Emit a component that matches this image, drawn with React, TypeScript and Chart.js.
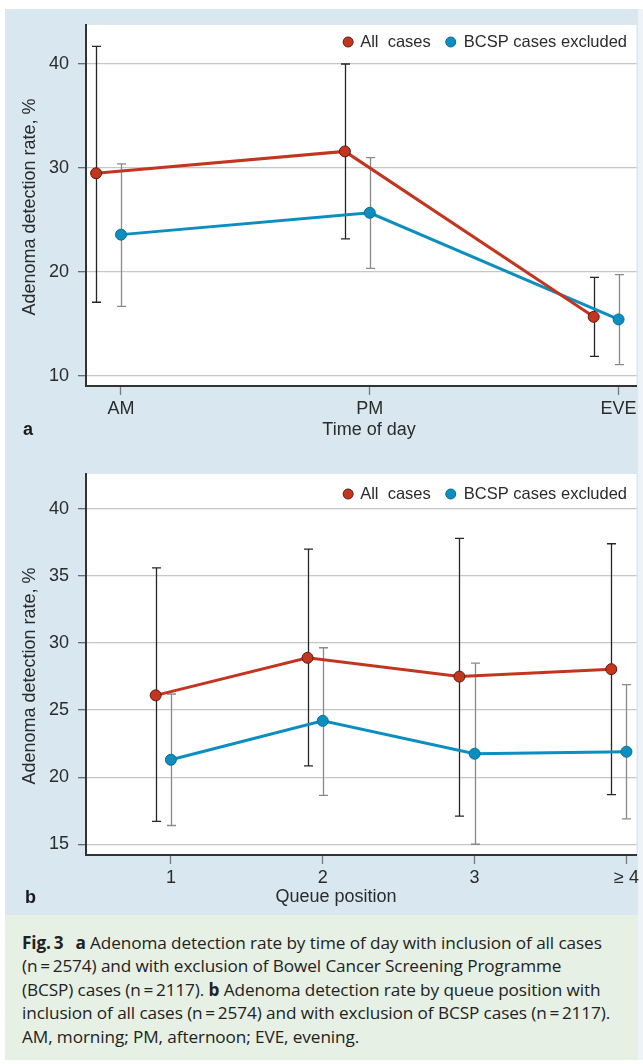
import React, { useEffect, useRef } from "react";
import { Chart, registerables } from "chart.js";

Chart.register(...registerables);

const FONT_FAMILY = '"Liberation Sans", Arial, sans-serif';
const CAPTION_FONT = '"Open Sans", "Noto Sans", sans-serif';

const seriesNames = ["All  cases", "BCSP cases excluded"];

// Panel a: time of day
const timeLabels = ["AM", "PM", "EVE"];
const timeAll = [29.5, 31.6, 15.7];
const timeAllLow = [17.1, 23.2, 11.9];
const timeAllHigh = [41.7, 40.0, 19.5];
const timeExcl = [23.6, 25.7, 15.45];
const timeExclLow = [16.7, 20.35, 11.1];
const timeExclHigh = [30.4, 31.0, 19.75];
const timeTicks = [10, 20, 30, 40];

// Panel b: queue position
const queueLabels = ["1", "2", "3", "≥ 4"];
const queueAll = [26.1, 28.9, 27.5, 28.05];
const queueAllLow = [16.7, 20.85, 17.1, 18.7];
const queueAllHigh = [35.6, 37.0, 37.8, 37.4];
const queueExcl = [21.3, 24.2, 21.75, 21.9];
const queueExclLow = [16.4, 18.65, 15.0, 16.9];
const queueExclHigh = [26.2, 29.65, 28.5, 26.9];
const queueTicks = [15, 20, 25, 30, 35, 40];

const RED = "#c3351f";
const RED_EDGE = "#5e1b10";
const BLUE = "#0c8ec0";
const BLUE_EDGE = "#0a6e96";
const DODGE = 0.1;

type Cfg = {
  panel: string;
  labels: string[];
  firstX: number;
  all: number[];
  allLow: number[];
  allHigh: number[];
  excl: number[];
  exclLow: number[];
  exclHigh: number[];
  ticks: number[];
  yMin: number;
  yMax: number;
  xMin: number;
  xMax: number;
  xTitle: string;
  xTitleX: number;
  xTitleY: number;
  yTitleY: number;
  legendY: number;
  panelX: number;
  panelY: number;
  top: number;
  width: number;
  height: number;
  area: { left: number; top: number; right: number; bottom: number };
};

const cfgA: Cfg = {
  panel: "a",
  labels: timeLabels,
  firstX: 0,
  all: timeAll,
  allLow: timeAllLow,
  allHigh: timeAllHigh,
  excl: timeExcl,
  exclLow: timeExclLow,
  exclHigh: timeExclHigh,
  ticks: timeTicks,
  yMin: 9.05,
  yMax: 43.75,
  xMin: -0.1406,
  xMax: 2.072,
  xTitle: "Time of day",
  xTitleX: 369,
  xTitleY: 430,
  yTitleY: 207,
  legendY: 42,
  panelX: 23,
  panelY: 430,
  top: 0,
  width: 643,
  height: 445,
  area: { left: 86, top: 25, right: 637, bottom: 386 },
};

const cfgB: Cfg = {
  panel: "b",
  labels: queueLabels,
  firstX: 1,
  all: queueAll,
  allLow: queueAllLow,
  allHigh: queueAllHigh,
  excl: queueExcl,
  exclLow: queueExclLow,
  exclHigh: queueExclHigh,
  ticks: queueTicks,
  yMin: 14.2,
  yMax: 42.6,
  xMin: 0.441,
  xMax: 4.066,
  xTitle: "Queue position",
  xTitleX: 336,
  xTitleY: 452,
  yTitleY: 231,
  legendY: 49,
  panelX: 25,
  panelY: 453,
  top: 445,
  width: 643,
  height: 470,
  area: { left: 86, top: 29, right: 637, bottom: 410 },
};

function decorPlugin(cfg: Cfg) {
  return {
    id: "decor" + cfg.panel,
    beforeDraw(chart: any) {
      const { ctx, chartArea: a } = chart;
      ctx.save();
      ctx.fillStyle = "#ffffff";
      ctx.fillRect(a.left, a.top, a.right - a.left, a.bottom - a.top);
      ctx.restore();
    },
    beforeDatasetsDraw(chart: any) {
      const { ctx } = chart;
      const xs = chart.scales.x;
      const ys = chart.scales.y;
      const groups = [
        { lo: cfg.exclLow, hi: cfg.exclHigh, dx: 0, color: "#8a8a8a" },
        { lo: cfg.allLow, hi: cfg.allHigh, dx: -DODGE, color: "#262626" },
      ];
      ctx.save();
      ctx.lineWidth = 1.3;
      for (const g of groups) {
        ctx.strokeStyle = g.color;
        g.lo.forEach((lo, i) => {
          const x = Math.round(xs.getPixelForValue(cfg.firstX + i + g.dx)) + 0.5;
          const yl = ys.getPixelForValue(lo);
          const yh = ys.getPixelForValue(g.hi[i]);
          ctx.beginPath();
          ctx.moveTo(x, yl);
          ctx.lineTo(x, yh);
          ctx.moveTo(x - 4.5, yl);
          ctx.lineTo(x + 4.5, yl);
          ctx.moveTo(x - 4.5, yh);
          ctx.lineTo(x + 4.5, yh);
          ctx.stroke();
        });
      }
      ctx.restore();
    },
    afterDraw(chart: any) {
      const { ctx } = chart;
      ctx.save();
      ctx.fillStyle = "#2b2b2b";
      ctx.font = `16.5px ${FONT_FAMILY}`;
      ctx.textBaseline = "middle";
      // legend
      const right = 627;
      const w2 = ctx.measureText(seriesNames[1]).width;
      ctx.textAlign = "right";
      ctx.fillText(seriesNames[1], right, cfg.legendY);
      const dot2 = right - w2 - 13;
      const t1right = dot2 - 20;
      ctx.fillText(seriesNames[0], t1right, cfg.legendY);
      const w1 = ctx.measureText(seriesNames[0]).width;
      const dot1 = t1right - w1 - 12;
      const dots = [
        { x: dot1, fill: RED, edge: RED_EDGE },
        { x: dot2, fill: BLUE, edge: BLUE_EDGE },
      ];
      for (const d of dots) {
        ctx.beginPath();
        ctx.arc(d.x, cfg.legendY, 5, 0, Math.PI * 2);
        ctx.fillStyle = d.fill;
        ctx.fill();
        ctx.lineWidth = 1;
        ctx.strokeStyle = d.edge;
        ctx.stroke();
      }
      // axis titles
      ctx.fillStyle = "#2b2b2b";
      ctx.textAlign = "center";
      ctx.font = `18px ${FONT_FAMILY}`;
      ctx.fillText(cfg.xTitle, cfg.xTitleX, cfg.xTitleY);
      ctx.save();
      ctx.translate(30, cfg.yTitleY);
      ctx.rotate(-Math.PI / 2);
      ctx.fillText("Adenoma detection rate, %", 0, 0);
      ctx.restore();
      // panel letter
      ctx.textAlign = "left";
      ctx.font = `bold 18px ${FONT_FAMILY}`;
      ctx.fillStyle = "#1a1a1a";
      ctx.fillText(cfg.panel, cfg.panelX, cfg.panelY);
      ctx.restore();
    },
  };
}

function buildChart(canvas: HTMLCanvasElement, cfg: Cfg) {
  const allPts = cfg.all.map((v, i) => ({ x: cfg.firstX + i - DODGE, y: v }));
  const exclPts = cfg.excl.map((v, i) => ({ x: cfg.firstX + i, y: v }));
  const tickFont = { family: FONT_FAMILY, size: 18 };
  return new Chart(canvas, {
    type: "line",
    data: {
      datasets: [
        {
          label: seriesNames[0],
          data: allPts,
          borderColor: RED,
          backgroundColor: RED,
          pointBackgroundColor: RED,
          pointBorderColor: RED_EDGE,
          pointBorderWidth: 1,
          pointRadius: 5.5,
          borderWidth: 3,
          tension: 0,
        },
        {
          label: seriesNames[1],
          data: exclPts,
          borderColor: BLUE,
          backgroundColor: BLUE,
          pointBackgroundColor: BLUE,
          pointBorderColor: BLUE_EDGE,
          pointBorderWidth: 1,
          pointRadius: 5.5,
          borderWidth: 3,
          tension: 0,
        },
      ],
    },
    options: {
      animation: false,
      responsive: false,
      devicePixelRatio: 1,
      events: [],
      layout: {
        padding: {
          left: 0,
          top: cfg.area.top,
          right: cfg.width - cfg.area.right,
          bottom: 0,
        },
      },
      plugins: {
        legend: { display: false },
        tooltip: { enabled: false },
      },
      scales: {
        x: {
          type: "linear",
          min: cfg.xMin,
          max: cfg.xMax,
          afterFit: (s: any) => {
            s.height = cfg.height - cfg.area.bottom;
          },
          afterBuildTicks: (s: any) => {
            s.ticks = cfg.labels.map((_, i) => ({ value: cfg.firstX + i }));
          },
          ticks: {
            callback: (_v: any, i: number) => cfg.labels[i],
            font: tickFont,
            color: "#2b2b2b",
            padding: 3,
            maxRotation: 0,
            autoSkip: false,
          },
          grid: {
            drawOnChartArea: false,
            drawTicks: true,
            tickLength: 9,
            tickColor: "#7a7a7a",
            tickWidth: 1.3,
          },
          border: { color: "#333333", width: 2 },
        },
        y: {
          min: cfg.yMin,
          max: cfg.yMax,
          afterFit: (s: any) => {
            s.width = cfg.area.left;
          },
          afterBuildTicks: (s: any) => {
            s.ticks = cfg.ticks.map((v) => ({ value: v }));
          },
          ticks: {
            font: tickFont,
            color: "#2b2b2b",
            padding: 9,
          },
          grid: {
            color: "#c6c6c6",
            lineWidth: 1.3,
            tickLength: 8,
            tickColor: "#6a6a6a",
          },
          border: { color: "#333333", width: 2 },
        },
      },
    },
    plugins: [decorPlugin(cfg)],
  } as any);
}

function ChartPanel({ cfg }: { cfg: Cfg }) {
  const ref = useRef<HTMLCanvasElement>(null);
  useEffect(() => {
    const chart = buildChart(ref.current as HTMLCanvasElement, cfg);
    return () => chart.destroy();
  }, [cfg]);
  return (
    <canvas
      ref={ref}
      width={cfg.width}
      height={cfg.height}
      style={{
        position: "absolute",
        left: 0,
        top: cfg.top,
        width: cfg.width,
        height: cfg.height,
      }}
    />
  );
}

const captionStyle: React.CSSProperties = {
  position: "absolute",
  left: 22,
  top: 931,
  fontFamily: CAPTION_FONT,
  fontSize: 17.2,
  lineHeight: "23.4px",
  color: "#222",
  whiteSpace: "nowrap",
  letterSpacing: "-0.1px",
};

export default function App() {
  return (
    <div
      style={{
        position: "absolute",
        left: 0,
        top: 0,
        width: 643,
        height: 1064,
        background: "#ffffff",
        overflow: "hidden",
      }}
    >
      <div style={{ position: "absolute", left: 5, top: 9, width: 633, height: 906, background: "#d8e7f0" }} />
      <div style={{ position: "absolute", left: 638, top: 9, width: 5, height: 1051, background: "#edf3f7" }} />
      <div style={{ position: "absolute", left: 5, top: 915, width: 633, height: 145, background: "#e6f0e4" }} />
      <ChartPanel cfg={cfgA} />
      <ChartPanel cfg={cfgB} />
      <div style={captionStyle}>
        <div>
          <b>Fig.{"\u2009"}3</b>
          <span style={{ marginLeft: 12 }}>
            <b>a</b> Adenoma detection rate by time of day with inclusion of all cases
          </span>
        </div>
        <div>(n{"\u2009=\u2009"}2574) and with exclusion of Bowel Cancer Screening Programme</div>
        <div>
          (BCSP) cases (n{"\u2009=\u2009"}2117). <b>b</b> Adenoma detection rate by queue position with
        </div>
        <div>
          inclusion of all cases (n{"\u2009=\u2009"}2574) and with exclusion of BCSP cases (n{"\u2009=\u2009"}2117).
        </div>
        <div>AM, morning; PM, afternoon; EVE, evening.</div>
      </div>
    </div>
  );
}
